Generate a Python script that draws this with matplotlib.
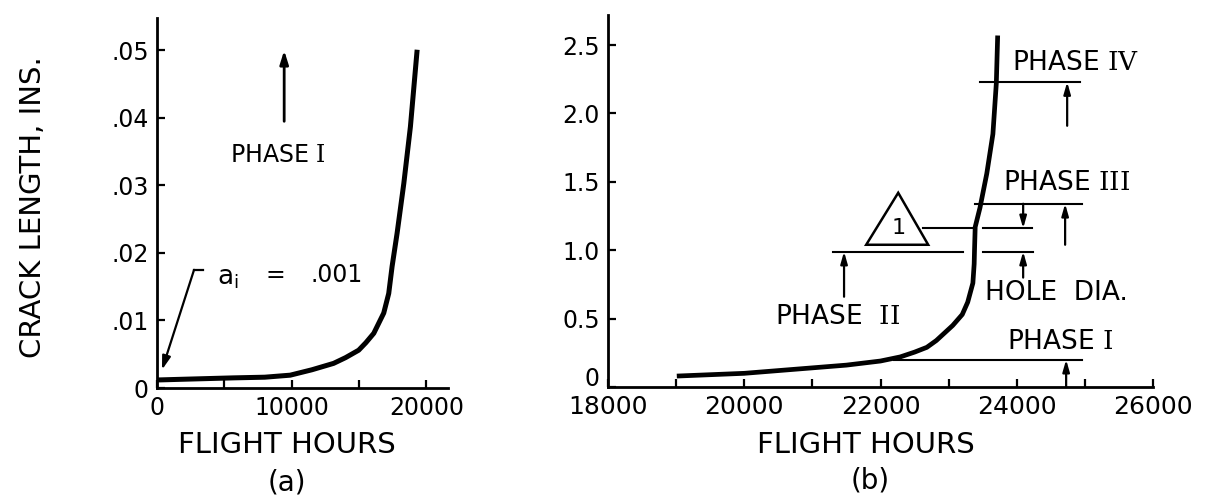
import matplotlib
matplotlib.use("Agg")
import matplotlib.pyplot as plt
from matplotlib.patches import Polygon
import matplotlib.transforms as mtransforms

plt.rcParams['font.family'] = ['DejaVu Sans']
plt.rcParams['mathtext.fontset'] = 'custom'
plt.rcParams['mathtext.rm'] = 'DejaVu Serif'
plt.rcParams['mathtext.sf'] = 'DejaVu Sans'

# ---- data: panel (a) ----
a_hours = [0, 220, 2000, 5670, 8000, 9890, 11500, 13110, 14000, 14970, 15500,
           16090, 16830, 17200, 17450, 17820, 18320, 18810, 19310]
a_crack = [0.0012, 0.0012, 0.0013, 0.0015, 0.0016, 0.0019, 0.0027, 0.00365,
           0.0045, 0.0056, 0.0067, 0.0081, 0.0111, 0.0140, 0.0180, 0.0229,
           0.0303, 0.0387, 0.0501]
a_yticks = [0, 0.01, 0.02, 0.03, 0.04, 0.05]
a_yticklabels = ['0', '.01', '.02', '.03', '.04', '.05']
a_xticks = [0, 10000, 20000]
a_xticklabels = ['0', '10000', '20000']
a_xminor = [5000, 15000]

# ---- data: panel (b) ----
b_hours = [19010, 20000, 21000, 21500, 22000, 22290, 22500, 22680, 22820,
           23060, 23200, 23280, 23356, 23375, 23380, 23390, 23460, 23560,
           23650, 23700, 23720]
b_crack = [0.08, 0.10, 0.14, 0.16, 0.19, 0.22, 0.255, 0.29, 0.34,
           0.45, 0.53, 0.62, 0.76, 0.90, 1.00, 1.17, 1.31, 1.56,
           1.85, 2.22, 2.57]
b_yticks = [0, 0.5, 1.0, 1.5, 2.0, 2.5]
b_yticklabels = ['0', '0.5', '1.0', '1.5', '2.0', '2.5']
b_xticks = [18000, 20000, 22000, 24000, 26000]
b_xticklabels = ['18000', '20000', '22000', '24000', '26000']
b_xminor = [19000, 21000, 23000, 25000]

# guide lines in panel (b): (level, x start, x end)
b_guides = [(0.20, 22200, 24960), (0.99, 21300, 23210), (0.99, 23507, 24240),
            (1.16, 22625, 23360), (1.16, 23507, 24226), (1.34, 23390, 24960),
            (2.23, 23462, 24930)]
# arrows in panel (b): (x, tail y, head y)
b_arrows = [(24725, 0.0, 0.20), (21465, 0.66, 0.99), (24094, 0.80, 0.99),
            (24094, 1.34, 1.16), (24710, 1.04, 1.34), (24740, 1.91, 2.23)]
# labels in panel (b): (text, x left, y)
b_labels = [(r'PHASE $\mathrm{IV}$', 23932, 2.37),
            (r'PHASE $\mathrm{III}$', 23800, 1.49),
            ('HOLE  DIA.', 23536, 0.69),
            (r'PHASE  $\mathrm{II}$', 20452, 0.51),
            (r'PHASE $\mathrm{I}$', 23859, 0.33)]
b_triangle = [(21790, 1.04), (22260, 1.42), (22700, 1.04)]

W, H = 1205, 500
fig = plt.figure(figsize=(W / 100, H / 100), dpi=100)

def style_axes(ax, xsize, ysize):
    for s in ['top', 'right']:
        ax.spines[s].set_visible(False)
    for s in ['left', 'bottom']:
        ax.spines[s].set_linewidth(2.0)
    ax.tick_params(which='both', direction='in', length=6, width=1.6, pad=6)
    ax.tick_params(axis='x', labelsize=xsize)
    ax.tick_params(axis='y', labelsize=ysize)

# ---- panel (a) ----
axa = fig.add_axes([157 / W, (H - 388) / H, (448 - 157) / W, (388 - 18) / H])
style_axes(axa, 17, 17)
axa.plot(a_hours, a_crack, color='black', lw=3.6, solid_capstyle='butt',
         solid_joinstyle='round')
axa.set_xlim(0, 21600)
axa.set_ylim(0, 0.0548)
axa.set_yticks(a_yticks)
axa.set_yticklabels(a_yticklabels)
axa.set_xticks(a_xticks)
axa.set_xticklabels(a_xticklabels)
axa.set_xticks(a_xminor, minor=True)
axa.annotate('', xy=(9440, 0.0500), xytext=(9440, 0.0395),
             arrowprops=dict(arrowstyle='-|>,head_length=0.8,head_width=0.25',
                             lw=2.0, color='black', shrinkA=0, shrinkB=0))
axa.text(9000, 0.0345, r'PHASE $\mathrm{I}$', ha='center', va='center', fontsize=17)
axa.plot([3420, 2750], [0.0175, 0.0175], color='black', lw=1.6)
axa.annotate('', xy=(370, 0.0027), xytext=(2750, 0.0175),
             arrowprops=dict(arrowstyle='-|>,head_length=0.8,head_width=0.25',
                             lw=1.6, color='black', shrinkA=0, shrinkB=0))
axa.text(4460, 0.0163, r'$\mathsf{a}_{\mathsf{i}}$', ha='left',
         va='center', fontsize=19)
axa.text(8770, 0.0168, '=', ha='center', va='center', fontsize=17)
axa.text(11375, 0.0168, '.001', ha='left', va='center', fontsize=17)

# ---- panel (b) ----
axb = fig.add_axes([608 / W, (H - 387) / H, (1153 - 608) / W, (387 - 15) / H])
style_axes(axb, 18, 17)
axb.plot(b_hours, b_crack, color='black', lw=3.4, solid_capstyle='butt',
         solid_joinstyle='round')
axb.set_xlim(18000, 26000)
axb.set_ylim(0, 2.72)
axb.set_yticks(b_yticks)
axb.set_yticklabels(b_yticklabels)
axb.set_xticks(b_xticks)
axb.set_xticklabels(b_xticklabels)
axb.set_xticks(b_xminor, minor=True)
# lift the "0" y label slightly, as in the reference
zero_lbl = axb.get_yticklabels()[0]
zero_lbl.set_transform(zero_lbl.get_transform() +
                       mtransforms.ScaledTranslation(0, 10 / 100, fig.dpi_scale_trans))
for lvl, x0, x1 in b_guides:
    axb.plot([x0, x1], [lvl, lvl], color='black', lw=1.5)
for x, y0, y1 in b_arrows:
    axb.annotate('', xy=(x, y1), xytext=(x, y0),
                 arrowprops=dict(arrowstyle='-|>,head_length=0.7,head_width=0.2',
                                 lw=1.6, color='black', shrinkA=0, shrinkB=0))
for txt, x, y in b_labels:
    axb.text(x, y, txt, ha='left', va='center', fontsize=19)
axb.add_patch(Polygon(b_triangle, closed=True, fill=False, edgecolor='black',
                      lw=1.8))
axb.text(22260, 1.16, '1', ha='center', va='center', fontsize=16)

# ---- axis titles ----
fig.text(33 / W, 1 - 207 / H, 'CRACK LENGTH, INS.', rotation=90, ha='center',
         va='center', fontsize=21)
fig.text(287 / W, 1 - 445 / H, 'FLIGHT HOURS', ha='center', va='center', fontsize=21)
fig.text(287 / W, 1 - 482 / H, '(a)', ha='center', va='center', fontsize=20)
fig.text(866 / W, 1 - 445 / H, 'FLIGHT HOURS', ha='center', va='center', fontsize=21)
fig.text(870 / W, 1 - 480 / H, '(b)', ha='center', va='center', fontsize=20)

fig.savefig('out.png', dpi=100, facecolor='white')
